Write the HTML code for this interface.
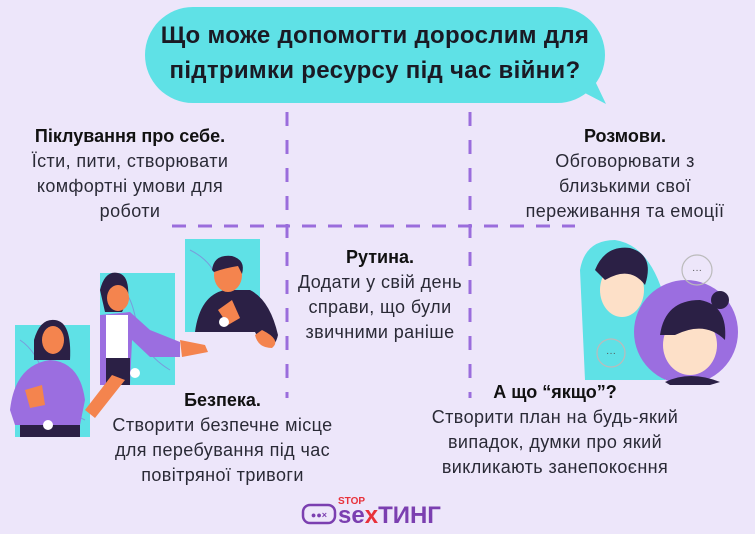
<!DOCTYPE html>
<html><head><meta charset="utf-8">
<style>
html,body{margin:0;padding:0}
body{width:755px;height:534px;background:#ede6fa;position:relative;overflow:hidden;font-family:"Liberation Sans","DejaVu Sans",sans-serif;color:#1d1d2b}
.t{position:absolute;text-align:center;font-size:18px;line-height:25px;color:#2a2a36;letter-spacing:0.4px;white-space:nowrap}
.t b{font-weight:bold;color:#111;letter-spacing:0}
</style></head><body>
<svg width="755" height="534" style="position:absolute;left:0;top:0">
 <rect x="145" y="7" width="460" height="96" rx="48" fill="#5fe1e6"/>
 <path d="M560 80 L606 104 L585 60 Z" fill="#5fe1e6"/>
 <g stroke="#9a6ddc" stroke-width="3" fill="none">
  <line x1="287" y1="112" x2="287" y2="398" stroke-dasharray="14 14"/>
  <line x1="470" y1="112" x2="470" y2="398" stroke-dasharray="14 14"/>
  <line x1="172" y1="226" x2="575" y2="226" stroke-dasharray="14 12"/>
 </g>
 <!-- panels -->
 <rect x="15" y="325" width="75" height="112" fill="#5fe1e6"/>
 <rect x="100" y="273" width="75" height="112" fill="#5fe1e6"/>
 <rect x="185" y="239" width="75" height="93" fill="#5fe1e6"/>
 <g fill="none" stroke="#8a6fd6" stroke-width="1" opacity=".6">
  <path d="M110 280 C150 300 120 340 170 370"/><path d="M190 250 C230 270 210 300 255 320"/><path d="M20 340 C50 360 40 400 85 420"/>
 </g>
 <!-- person 3 -->
 <path d="M195 332 Q200 295 225 290 L250 290 Q270 300 278 335 Q275 350 262 345 L255 332 Z" fill="#2b2045"/>
 <path d="M262 330 Q282 340 272 348 Q258 348 255 335 Z" fill="#f4844e"/>
 <ellipse cx="228" cy="275" rx="14" ry="17" fill="#f4844e"/>
 <path d="M212 270 Q214 254 232 256 Q246 260 242 274 L238 266 Q225 268 214 272Z" fill="#2b2045"/>
 <path d="M218 310 L232 300 L240 318 L228 325Z" fill="#f4844e"/>
 <circle cx="224" cy="322" r="5" fill="#fff"/>
 <!-- person 2 -->
 <path d="M100 290 Q105 270 118 273 Q130 275 128 300 L122 312 L105 312 Z" fill="#2b2045"/>
 <ellipse cx="118" cy="298" rx="11" ry="13" fill="#f4844e"/>
 <path d="M100 315 L130 312 L150 330 L180 342 L180 357 L150 357 L132 340 L130 385 L100 385 Z" fill="#9b6ee0"/>
 <rect x="106" y="315" width="22" height="45" fill="#fff"/>
 <rect x="106" y="358" width="24" height="27" fill="#2b2045"/>
 <path d="M180 340 L205 345 L208 352 L182 357Z" fill="#f4844e"/>
 <path d="M85 410 L112 375 L125 380 L95 418Z" fill="#f4844e"/>
 <circle cx="135" cy="373" r="5" fill="#fff"/>
 <!-- person 1 -->
 <path d="M34 340 Q40 318 55 320 Q72 322 70 360 L34 360 Z" fill="#2b2045"/>
 <ellipse cx="53" cy="340" rx="11" ry="14" fill="#f4844e"/>
 <path d="M10 410 Q15 365 50 360 Q80 362 85 400 L80 425 L15 425Z" fill="#9b6ee0"/>
 <rect x="20" y="425" width="60" height="12" fill="#2b2045"/>
 <path d="M25 390 L42 385 L45 405 L30 408Z" fill="#f4844e"/>
 <circle cx="48" cy="425" r="5" fill="#fff"/>
 <!-- right -->
 <path d="M580 270 Q585 240 615 240 Q650 245 665 300 L665 380 L585 380 Z" fill="#5fe1e6"/>
 <ellipse cx="622" cy="290" rx="22" ry="27" fill="#fde0c8"/>
 <path d="M595 270 Q605 245 630 248 Q655 255 645 285 Q630 265 605 280 Z" fill="#2b2045"/>
 <circle cx="686" cy="332" r="52" fill="#9b6ee0"/>
 <ellipse cx="690" cy="345" rx="27" ry="30" fill="#fde0c8"/>
 <path d="M660 335 Q665 300 700 300 Q728 305 725 340 Q705 320 675 335Z" fill="#2b2045"/>
 <circle cx="720" cy="300" r="9" fill="#2b2045"/>
 <path d="M665 382 Q690 370 720 382 L710 385 L670 385Z" fill="#2b2045"/>
 <g fill="none" stroke="#bbb" stroke-width="1.2">
  <circle cx="697" cy="270" r="15"/><circle cx="611" cy="353" r="14"/>
 </g>
 <g fill="#555"><text x="697" y="273" font-size="10" text-anchor="middle">···</text><text x="611" y="356" font-size="10" text-anchor="middle">···</text></g>
 <rect x="303" y="505" width="32" height="18" rx="7" fill="none" stroke="#7b3fb0" stroke-width="2.5"/>
 <text x="319" y="518" font-size="9" fill="#7b3fb0" text-anchor="middle" font-weight="bold">●●×</text>
</svg>
<div class="t" style="left:145px;top:18px;width:460px;font-size:24px;line-height:35px;font-weight:bold;color:#1a1a24;letter-spacing:0.3px">Що може допомогти дорослим для<br>підтримки ресурсу під час війни?</div>
<div class="t" style="left:10px;top:124px;width:240px"><b>Піклування про себе.</b><br>Їсти, пити, створювати<br>комфортні умови для<br>роботи</div>
<div class="t" style="left:495px;top:124px;width:260px"><b>Розмови.</b><br>Обговорювати з<br>близькими свої<br>переживання та емоції</div>
<div class="t" style="left:290px;top:245px;width:180px"><b>Рутина.</b><br>Додати у свій день<br>справи, що були<br>звичними раніше</div>
<div class="t" style="left:95px;top:388px;width:255px"><b>Безпека.</b><br>Створити безпечне місце<br>для перебування під час<br>повітряної тривоги</div>
<div class="t" style="left:415px;top:380px;width:280px"><b>А що “якщо”?</b><br>Створити план на будь-який<br>випадок, думки про який<br>викликають занепокоєння</div>
<div style="position:absolute;left:338px;top:496px;font-size:10px;color:#e8313a;font-weight:bold">STOP</div>
<div style="position:absolute;left:338px;top:502px;font-size:24px;font-weight:bold;color:#7b3fb0">se<span style="color:#e8313a">x</span>ТИНГ</div>
</body></html>
